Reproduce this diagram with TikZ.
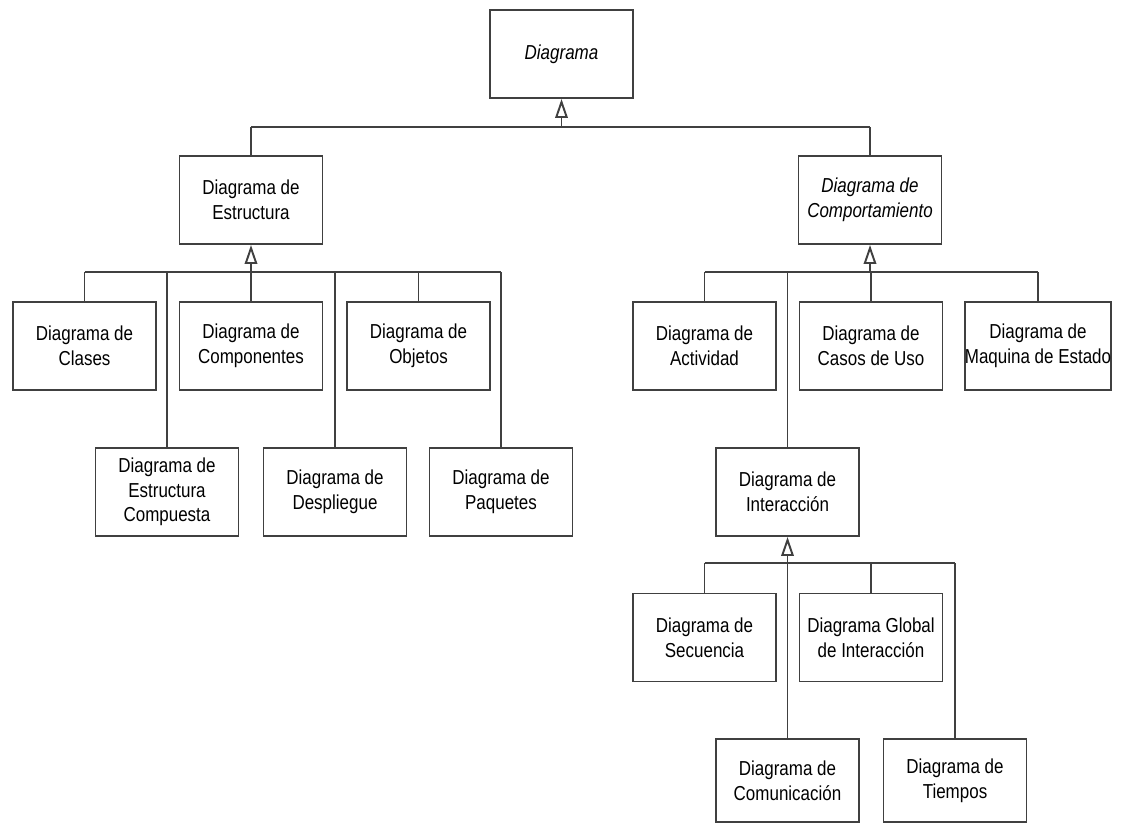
\documentclass[tikz,border=0pt]{standalone}
\usepackage{fontspec}
\setmainfont[FakeStretch=0.84]{Liberation Sans}
\usetikzlibrary{arrows.meta,calc}
\tikzset{
	diagbox/.style={draw=black!75, line width=1.1pt, fill=white, minimum width=2.86cm, minimum height=1.76cm, align=center, inner sep=0pt, font=\fontsize{11.5}{14}\selectfont},
	lowbox/.style={diagbox, minimum height=1.66cm},
	link/.style={draw=black!75, line width=1.1pt},
	gen/.style={link, -{Triangle[open, length=0.38cm, width=0.25cm]}}
}
\begin{document}
\begin{tikzpicture}[x=0.02cm, y=-0.02cm]
		\useasboundingbox (0,0) rectangle (1121,825);
		\node[diagbox] (diag) at (561.5,54) {\itshape Diagrama};
		\node[diagbox] (estr) at (251,200) {Diagrama de\\Estructura};
		\node[diagbox] (comp) at (870,200) {\itshape Diagrama de\\\itshape Comportamiento};
		\node[diagbox] (clases) at (84.5,346) {Diagrama de\\Clases};
		\node[diagbox] (componentes) at (251,346) {Diagrama de\\Componentes};
		\node[diagbox] (objetos) at (418.5,346) {Diagrama de\\Objetos};
		\node[diagbox] (compuesta) at (167,492) {Diagrama de\\Estructura\\Compuesta};
		\node[diagbox] (despliegue) at (335,492) {Diagrama de\\Despliegue};
		\node[diagbox] (paquetes) at (501,492) {Diagrama de\\Paquetes};
		\node[diagbox] (actividad) at (704.5,346) {Diagrama de\\Actividad};
		\node[diagbox] (casos) at (871,346) {Diagrama de\\Casos de Uso};
		\node[diagbox] (maquina) at (1038,346) {Diagrama de\\Maquina de Estado};
		\node[diagbox] (interaccion) at (787.5,492) {Diagrama de\\Interacción};
		\node[diagbox] (secuencia) at (704.5,637.5) {Diagrama de\\Secuencia};
		\node[diagbox] (global) at (871,637.5) {Diagrama Global\\de Interacción};
		\node[lowbox] (comunicacion) at (787.5,780.5) {Diagrama de\\Comunicación};
		\node[lowbox] (tiempos) at (955,780.5) {Diagrama de\\Tiempos};
		\coordinate (busD) at (561.5,127);
		\coordinate (busE) at (251,272);
		\coordinate (busC) at (870,272);
		\coordinate (busI) at (787.5,563);
		\draw[gen] (busD) -- (diag.south);
		\draw[link] (estr.north |- busD) -- (comp.north |- busD);
		\foreach \c in {estr,comp}
			\draw[link] (\c.north) -- (\c.north |- busD);
		\draw[gen] (busE) -- (estr.south);
		\draw[link] (clases.north |- busE) -- (paquetes.north |- busE);
		\foreach \c in {clases,componentes,objetos,compuesta,despliegue,paquetes}
			\draw[link] (\c.north) -- (\c.north |- busE);
		\draw[gen] (busC) -- (comp.south);
		\draw[link] (actividad.north |- busC) -- (maquina.north |- busC);
		\foreach \c in {actividad,casos,maquina,interaccion}
			\draw[link] (\c.north) -- (\c.north |- busC);
		\draw[gen] (busI) -- (interaccion.south);
		\draw[link] (secuencia.north |- busI) -- (tiempos.north |- busI);
		\foreach \c in {secuencia,global,comunicacion,tiempos}
			\draw[link] (\c.north) -- (\c.north |- busI);
	\end{tikzpicture}
\end{document}
